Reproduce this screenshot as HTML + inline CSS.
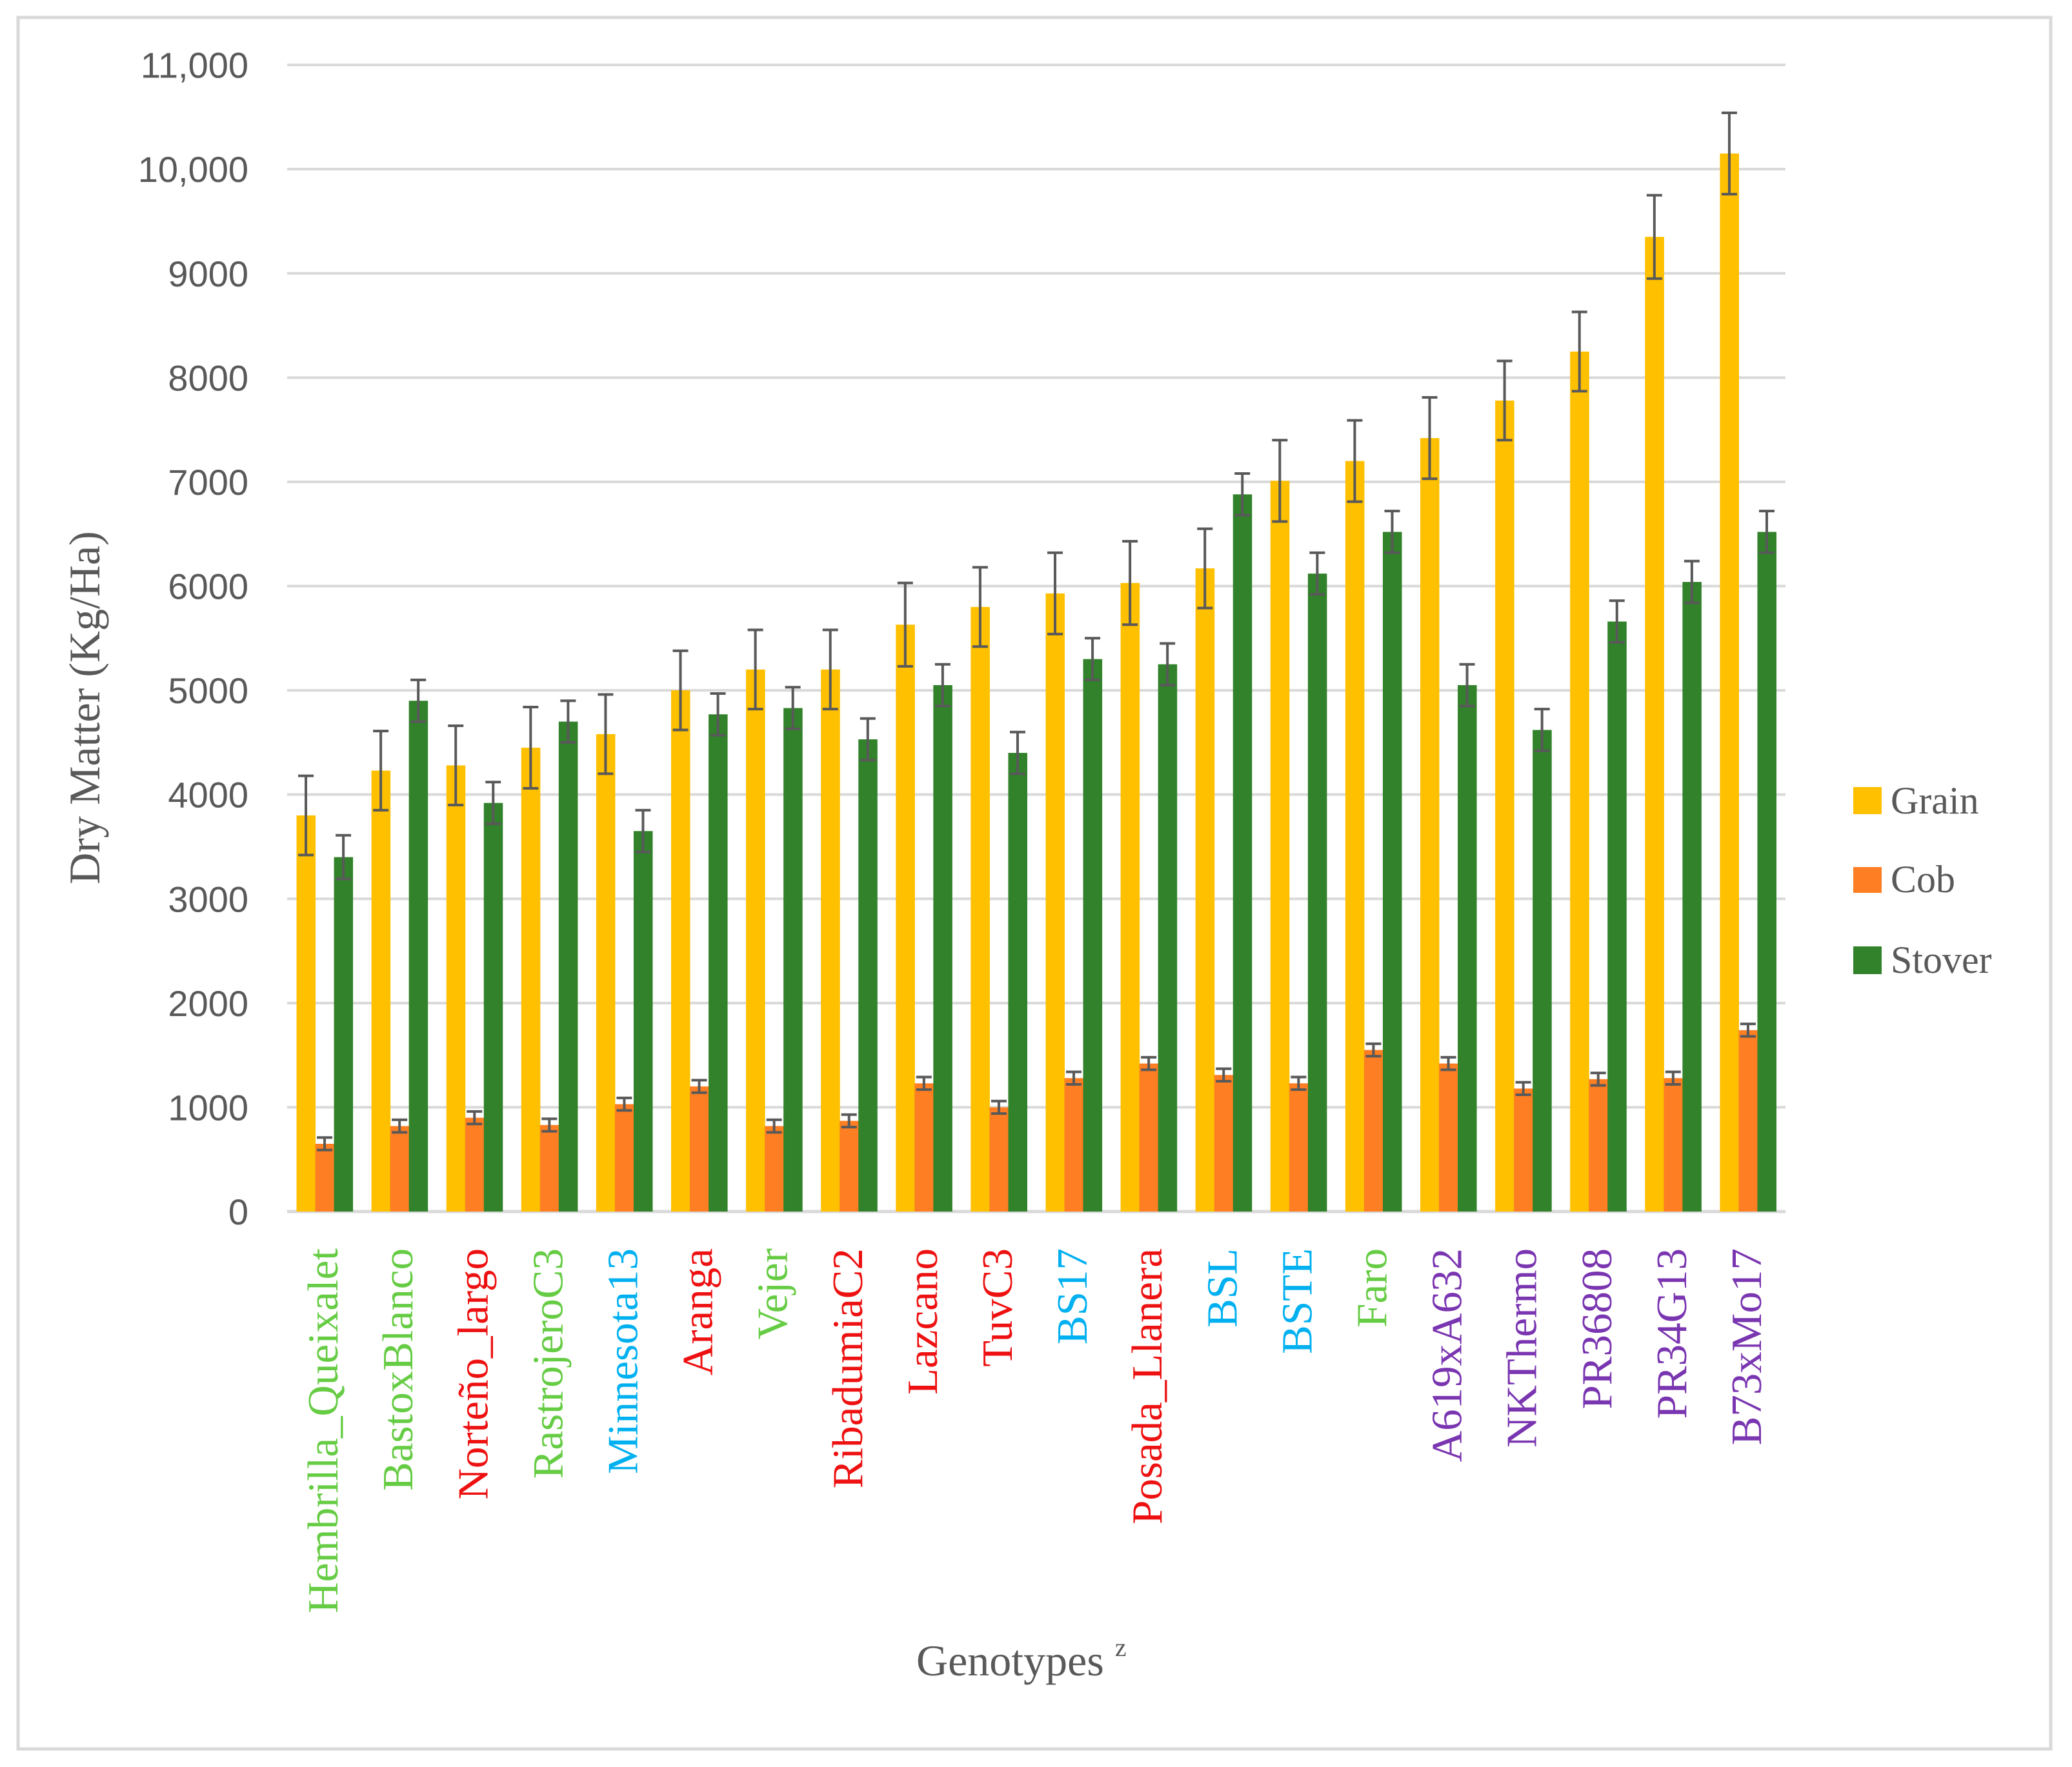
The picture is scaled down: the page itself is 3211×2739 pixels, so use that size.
<!DOCTYPE html>
<html><head><meta charset="utf-8"><style>
html,body{margin:0;padding:0;background:#fff;}
svg{display:block;}
</style></head><body>
<svg id="chart" width="3211" height="2739" viewBox="0 0 3211 2739" xmlns="http://www.w3.org/2000/svg">
<rect x="28" y="27" width="3150" height="2684" fill="#fff" stroke="#d9d9d9" stroke-width="5"/>
<g id="grid"></g><g id="bars"></g><g id="errs"></g><g id="ylabels"></g><g id="xlabels"></g>
<text transform="translate(154,1097) rotate(-90)" text-anchor="middle" font-family="'Liberation Serif',serif" font-size="68" fill="#595959">Dry Matter (Kg/Ha)</text>
<text x="1420" y="2597" font-family="'Liberation Serif',serif" font-size="68" fill="#595959">Genotypes <tspan font-size="40" dy="-30">z</tspan></text>
<g>
<rect x="2872" y="1220" width="44" height="42" fill="#ffc000"/>
<text x="2930" y="1261" font-family="'Liberation Serif',serif" font-size="60" fill="#595959">Grain</text>
<rect x="2872" y="1344" width="44" height="40" fill="#fd7e23"/>
<text x="2930" y="1383" font-family="'Liberation Serif',serif" font-size="60" fill="#595959">Cob</text>
<rect x="2872" y="1467" width="44" height="43" fill="#31822a"/>
<text x="2930" y="1508" font-family="'Liberation Serif',serif" font-size="60" fill="#595959">Stover</text>
</g>
</svg>
<script>
const categories=["Hembrilla_Queixalet","BastoxBlanco","Norteño_largo","RastrojeroC3","Minnesota13","Aranga","Vejer","RibadumiaC2","Lazcano","TuvC3","BS17","Posada_Llanera","BSL","BSTE","Faro","A619xA632","NKThermo","PR36808","PR34G13","B73xMo17"];
const labelGroups=["g","g","r","g","c","r","g","r","r","r","c","r","c","c","g","p","p","p","p","p"];
const grain=[3800,4230,4280,4450,4580,5000,5200,5200,5630,5800,5930,6030,6170,7010,7200,7420,7780,8250,9350,10150];
const grainErr=[380,380,380,390,380,380,380,380,400,380,390,400,380,390,390,390,380,380,400,390];
const cob=[650,820,900,830,1030,1200,820,870,1230,1000,1280,1420,1310,1230,1550,1420,1180,1270,1280,1740];
const cobErr=[60,60,60,60,60,60,60,60,60,60,60,60,60,60,60,60,60,60,60,60];
const stover=[3400,4900,3920,4700,3650,4770,4830,4530,5050,4400,5300,5250,6880,6120,6520,5050,4620,5660,6040,6520];
const stoverErr=[210,200,200,200,200,200,200,200,200,200,200,200,200,200,200,200,200,200,200,200];
const yTicks=[0,1000,2000,3000,4000,5000,6000,7000,8000,9000,10000,11000];
const yTickLabels=["0","1000","2000","3000","4000","5000","6000","7000","8000","9000","10,000","11,000"];

const NS="http://www.w3.org/2000/svg";
const X0=445,X1=2767,Y0=1878,YMAX=11000,YTOP=100.6;
const yS=v=>Y0-(v/YMAX)*(Y0-YTOP);
const gw=(X1-X0)/categories.length;
const bw=gw/4;
const xS=(i,s)=>X0+i*gw+bw/2+s*bw;
const colorMap={g:"#66cc44",r:"#ee1111",c:"#00b0f0",p:"#7a35b0"};
function mk(tag,attrs,parent){const e=document.createElementNS(NS,tag);for(const k in attrs)e.setAttribute(k,attrs[k]);parent.appendChild(e);return e;}
const grid=document.getElementById('grid'),bars=document.getElementById('bars'),errs=document.getElementById('errs'),yl=document.getElementById('ylabels'),xl=document.getElementById('xlabels');
yTicks.forEach((t,i)=>{
  const l=mk('line',{x1:X0,x2:X1,y1:yS(t),y2:yS(t),stroke:"#d9d9d9","stroke-width":4},grid);
  
  
  const tx=mk('text',{x:385,y:yS(t)+20,"text-anchor":"end","font-family":"'Liberation Sans',sans-serif","font-size":56,fill:"#595959"},yl);
  tx.textContent=yTickLabels[i];
  
  
});
const series=[[grain,grainErr,"#ffc000","grain"],[cob,cobErr,"#fd7e23","cob"],[stover,stoverErr,"#31822a","stover"]];
categories.forEach((c,i)=>{
  series.forEach((s,si)=>{
    const v=s[0][i],e=s[1][i];
    const r=mk('rect',{x:xS(i,si),y:yS(v),width:bw+0.5,height:Y0-yS(v),fill:s[2]},bars);
    
    
    const cx=xS(i,si)+bw/2;
    const g=mk('g',{stroke:"#595959","stroke-width":4},errs);
    
    
    mk('line',{x1:cx,x2:cx,y1:yS(v+e),y2:yS(v-e)},g);
    mk('line',{x1:cx-12,x2:cx+12,y1:yS(v+e),y2:yS(v+e)},g);
    mk('line',{x1:cx-12,x2:cx+12,y1:yS(v-e),y2:yS(v-e)},g);
  });
  const cx=X0+i*gw+gw/2+20;
  const t=mk('text',{transform:`translate(${cx},1935) rotate(-90)`,"text-anchor":"end","font-family":"'Liberation Serif',serif","font-size":67,fill:colorMap[labelGroups[i]]},xl);
  t.textContent=c;
  
  
});
const ax=mk('line',{x1:X0,x2:X1,y1:Y0,y2:Y0,stroke:"#d9d9d9","stroke-width":5},grid);


</script>
</body></html>
